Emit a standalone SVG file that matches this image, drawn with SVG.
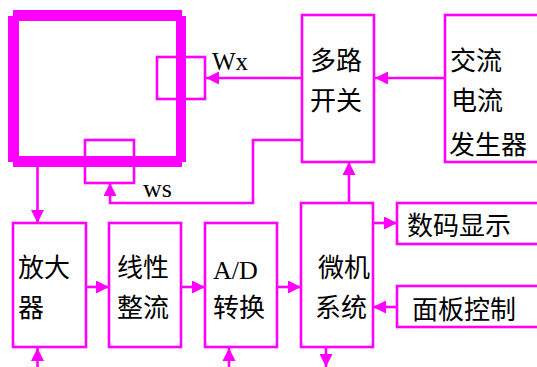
<svg xmlns="http://www.w3.org/2000/svg" width="537" height="367" viewBox="0 0 537 367">
<style>
.box{fill:none;stroke:#ff00ff;stroke-width:2.6}
.ln{fill:none;stroke:#ff00ff;stroke-width:2.6}
.cjk{font-family:"Noto Sans CJK SC","Noto Sans CJK JP",sans-serif;font-size:26px;fill:#000}
.lat{font-family:"Liberation Serif",serif;font-size:25px;fill:#000}
</style>
<defs>
<marker id="ah" markerUnits="userSpaceOnUse" markerWidth="13" markerHeight="13" refX="13" refY="6.5" orient="auto" viewBox="0 0 13 13">
<path d="M0,0 L13,6.5 L0,13 z" fill="#ff00ff"/>
</marker>
</defs>
<rect width="537" height="367" fill="#fff"/>
<g id="sensor">
<rect x="13" y="10" width="169" height="157" fill="#ff00ff"/>
<rect x="8" y="16" width="178" height="146" fill="#ff00ff"/>
<rect x="19" y="21" width="157" height="135" fill="#fff"/>
</g>
<g id="wx">
<rect class="box" x="157" y="57" width="48" height="42"/>
<text class="lat" x="212" y="69.5">Wx</text>
</g>
<g id="ws">
<rect class="box" x="85" y="140" width="49" height="43"/>
<text class="lat" x="143" y="196.5" style="font-size:26px">ws</text>
</g>
<g id="mux">
<rect class="box" x="302" y="15" width="72" height="147"/>
<text class="cjk" x="310" y="70">多路</text>
<text class="cjk" x="310" y="110">开关</text>
</g>
<g id="acgen">
<rect class="box" x="445" y="15" width="100" height="147"/>
<text class="cjk" x="450" y="70">交流</text>
<text class="cjk" x="451" y="110">电流</text>
<text class="cjk" x="449" y="154">发生器</text>
</g>
<g id="amp">
<rect class="box" x="13" y="223" width="73" height="124"/>
<text class="cjk" x="18" y="277">放大</text>
<text class="cjk" x="18" y="317">器</text>
</g>
<g id="rect">
<rect class="box" x="109" y="223" width="72" height="124"/>
<text class="cjk" x="117" y="277">线性</text>
<text class="cjk" x="117" y="317">整流</text>
</g>
<g id="adc">
<rect class="box" x="205" y="223" width="72" height="124"/>
<text class="lat" x="213" y="279" style="font-size:26px">A/D</text>
<text class="cjk" x="213" y="317">转换</text>
</g>
<g id="mcu">
<rect class="box" x="301" y="203" width="72" height="144"/>
<text class="cjk" x="318" y="277">微机</text>
<text class="cjk" x="315" y="317">系统</text>
</g>
<g id="display">
<rect class="box" x="397" y="203" width="150" height="41"/>
<text class="cjk" x="407" y="235">数码显示</text>
</g>
<g id="panel">
<rect class="box" x="397" y="286" width="150" height="41"/>
<text class="cjk" x="412" y="319">面板控制</text>
</g>
<g id="connectors">
<path class="ln" d="M445,78 L375,78" marker-end="url(#ah)"/>
<path class="ln" d="M302,78 L206,78" marker-end="url(#ah)"/>
<path class="ln" d="M302,140 L253,140 L253,203 L110,203 L110,183" marker-end="url(#ah)"/>
<path class="ln" d="M37.5,166 L37.5,223" marker-end="url(#ah)"/>
<path class="ln" d="M86,287 L109,287" marker-end="url(#ah)"/>
<path class="ln" d="M181,287 L205,287" marker-end="url(#ah)"/>
<path class="ln" d="M277,287 L301,287" marker-end="url(#ah)"/>
<path class="ln" d="M349,203 L349,162" marker-end="url(#ah)"/>
<path class="ln" d="M373,223 L397,223" marker-end="url(#ah)"/>
<path class="ln" d="M397,307 L373,307" marker-end="url(#ah)"/>
<path class="ln" d="M326,347 L326,367" marker-end="url(#ah)"/>
<path class="ln" d="M37.5,367 L37.5,348" marker-end="url(#ah)"/>
<path class="ln" d="M229,367 L229,348" marker-end="url(#ah)"/>
</g>
</svg>
